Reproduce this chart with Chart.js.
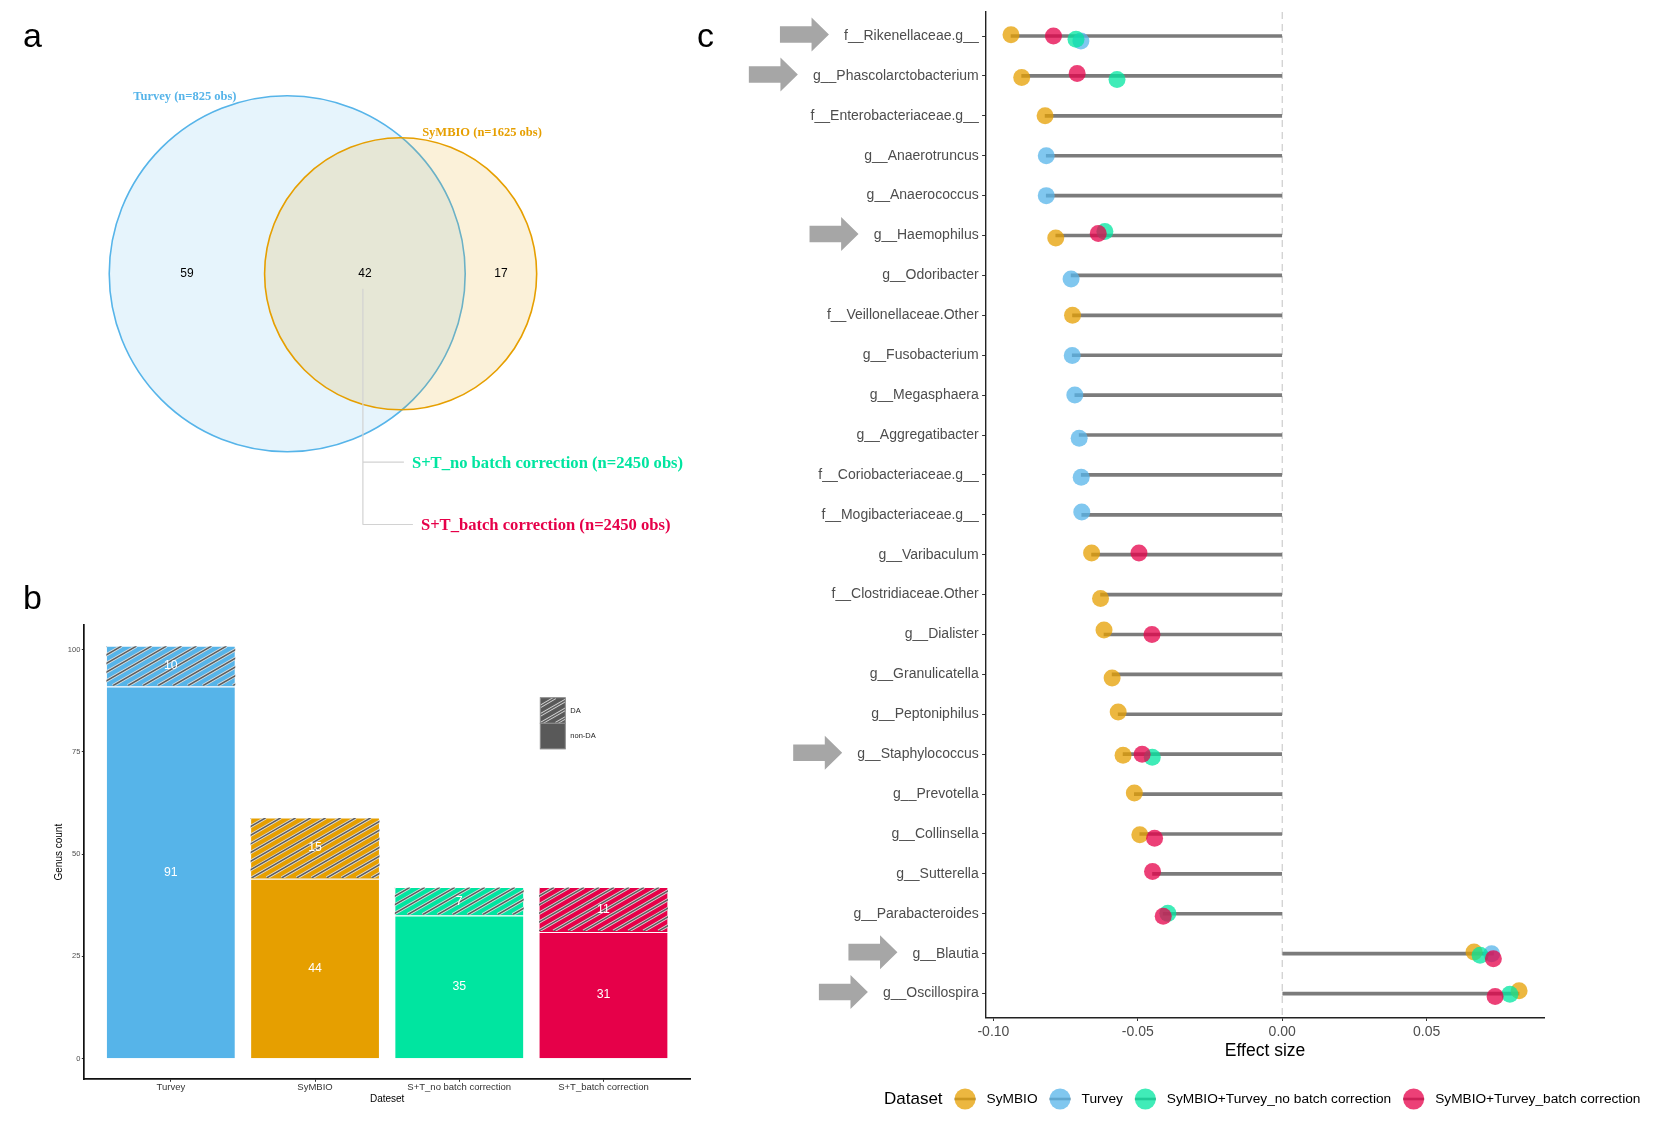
<!DOCTYPE html>
<html><head><meta charset="utf-8">
<script src="https://cdn.jsdelivr.net/npm/chart.js@4.4.1/dist/chart.umd.min.js"></script>
<style>
html,body{margin:0;padding:0;background:#fff;}
#wrap{position:relative;width:1672px;height:1129px;overflow:hidden;background:#fff;}
canvas{position:absolute;}
.letter{position:absolute;font-family:'Liberation Sans',Arial,sans-serif;font-size:34px;color:#000;line-height:1;}
</style></head><body>
<div id="wrap">
<canvas id="cA" width="700" height="570" style="left:0;top:0"></canvas>
<canvas id="cB" width="700" height="559" style="left:0;top:570px"></canvas>
<canvas id="cC" width="972" height="1129" style="left:700px;top:0"></canvas>
<div class="letter" style="left:23px;top:18px">a</div>
<div class="letter" style="left:23px;top:580px">b</div>
<div class="letter" style="left:697px;top:18px">c</div>
</div>
<script>
// ---------------- DATA ----------------
// Panel a (Venn)
const vennSets = ['Turvey', 'SyMBIO'];
const vennSetLabels = ['Turvey (n=825 obs)', 'SyMBIO (n=1625 obs)'];
const vennOnly = [59, 17];
const vennShared = 42;
const combinedLabels = ['S+T_no batch correction (n=2450 obs)', 'S+T_batch correction (n=2450 obs)'];

// Panel b (stacked bars)
const barCategories = ['Turvey', 'SyMBIO', 'S+T_no batch correction', 'S+T_batch correction'];
const nonDA = [91, 44, 35, 31];
const DA = [10, 15, 7, 11];
const barTicks = [0, 25, 50, 75, 100];

// Panel c (lollipop)
const genera = [
  'f__Rikenellaceae.g__', 'g__Phascolarctobacterium', 'f__Enterobacteriaceae.g__', 'g__Anaerotruncus',
  'g__Anaerococcus', 'g__Haemophilus', 'g__Odoribacter', 'f__Veillonellaceae.Other', 'g__Fusobacterium',
  'g__Megasphaera', 'g__Aggregatibacter', 'f__Coriobacteriaceae.g__', 'f__Mogibacteriaceae.g__',
  'g__Varibaculum', 'f__Clostridiaceae.Other', 'g__Dialister', 'g__Granulicatella', 'g__Peptoniphilus',
  'g__Staphylococcus', 'g__Prevotella', 'g__Collinsella', 'g__Sutterella', 'g__Parabacteroides',
  'g__Blautia', 'g__Oscillospira'
];
const symbio = [-0.0939, -0.0902, -0.0821, null, null, -0.0784, null, -0.0726, null, null, null, null, null,
  -0.0660, -0.0629, -0.0617, -0.0589, -0.0568, -0.0551, -0.0512, -0.0493, null, null, 0.0664, 0.0820];
const turvey = [-0.0697, null, null, -0.0817, -0.0817, null, -0.0731, null, -0.0727, -0.0718, -0.0703, -0.0696, -0.0694,
  null, null, null, null, null, null, null, null, null, null, 0.0725, null];
const noBatch = [-0.0714, -0.0572, null, null, null, -0.0614, null, null, null, null, null, null, null,
  null, null, null, null, null, -0.0450, null, null, null, -0.0396, 0.0685, 0.0788];
const batch = [-0.0792, -0.0710, null, null, null, -0.0637, null, null, null, null, null, null, null,
  -0.0496, null, -0.0451, null, null, -0.0485, null, -0.0442, -0.0449, -0.0412, 0.0731, 0.0737];
// vertical jitter of the points (in row units)
const symbioJit = [-0.03, 0.04, 0, 0, 0, 0.06, 0, 0, 0, 0, 0, 0, 0, -0.045, 0.1, -0.115, 0.09, -0.06, 0.025, -0.025, 0.02, 0, 0, -0.04, -0.07];
const turveyJit = [0.125, 0, 0, 0, 0, 0, 0.09, 0, 0.01, 0, 0.08, 0.06, -0.07, 0, 0, 0, 0, 0, 0, 0, 0, 0, 0, 0, 0];
const noBatchJit = [0.08, 0.09, 0, 0, 0, -0.1, 0, 0, 0, 0, 0, 0, 0, 0, 0, 0, 0, 0, 0.075, 0, 0, 0, -0.01, 0.04, 0.015];
const batchJit = [0, -0.06, 0, 0, 0, -0.05, 0, 0, 0, 0, 0, 0, 0, -0.045, 0, 0, 0, 0, 0, 0, 0.11, -0.06, 0.06, 0.125, 0.075];
const seriesNames = ['SyMBIO', 'Turvey', 'SyMBIO+Turvey_no batch correction', 'SyMBIO+Turvey_batch correction'];
const effectTicks = [-0.10, -0.05, 0.00, 0.05];
const arrowGenera = ['f__Rikenellaceae.g__', 'g__Phascolarctobacterium', 'g__Haemophilus', 'g__Staphylococcus', 'g__Blautia', 'g__Oscillospira'];

// ---------------- STYLE ----------------
const FONT = "'Liberation Sans', Arial, Helvetica, sans-serif";
const SERIF = "'Liberation Serif', 'Times New Roman', serif";
const C_SYM = '#E69F00', C_TUR = '#56B4E9', C_NOB = '#00E5A0', C_BAT = '#E60049';
function rgba(hex, a) {
  const n = parseInt(hex.slice(1), 16);
  return `rgba(${(n >> 16) & 255},${(n >> 8) & 255},${n & 255},${a})`;
}

// ---------------- PANEL A ----------------
function lensArea(r1, r2, d) {
  if (d >= r1 + r2) return 0;
  if (d <= Math.abs(r1 - r2)) return Math.PI * Math.min(r1, r2) ** 2;
  const a1 = Math.acos((d * d + r1 * r1 - r2 * r2) / (2 * d * r1));
  const a2 = Math.acos((d * d + r2 * r2 - r1 * r1) / (2 * d * r2));
  const k = Math.sqrt((-d + r1 + r2) * (d + r1 - r2) * (d - r1 + r2) * (d + r1 + r2));
  return r1 * r1 * a1 + r2 * r2 * a2 - 0.5 * k;
}
const setTotals = vennOnly.map(v => v + vennShared);
const radii = setTotals.map(t => Math.sqrt(t / Math.PI));
let lo = Math.abs(radii[0] - radii[1]) + 1e-9, hi = radii[0] + radii[1];
for (let i = 0; i < 80; i++) { const m = (lo + hi) / 2; if (lensArea(radii[0], radii[1], m) > vennShared) lo = m; else hi = m; }
const centers = [0, (lo + hi) / 2];
const vennColors = [C_TUR, C_SYM];
const regionX = [
  ((centers[0] - radii[0]) + (centers[1] - radii[1])) / 2,
  ((centers[1] - radii[1]) + (centers[0] + radii[0])) / 2,
  ((centers[0] + radii[0]) + (centers[1] + radii[1])) / 2
];
const regionCounts = [vennOnly[0], vennShared, vennOnly[1]];

function radiusPx(chart, r) {
  const s = chart.scales.x;
  return Math.abs(s.getPixelForValue(r) - s.getPixelForValue(0));
}

const vennLabels = {
  id: 'vennLabels',
  afterDatasetsDraw(chart) {
    const ctx = chart.ctx, xs = chart.scales.x, ys = chart.scales.y;
    ctx.save();
    ctx.fillStyle = '#000';
    ctx.font = `12px ${FONT}`;
    ctx.textAlign = 'center'; ctx.textBaseline = 'middle';
    regionCounts.forEach((c, i) => ctx.fillText(String(c), xs.getPixelForValue(regionX[i]), ys.getPixelForValue(0)));
    // set names
    ctx.font = `bold 12.5px ${SERIF}`;
    vennSetLabels.forEach((lab, i) => {
      const a = (i === 0 ? -30 : 30) * Math.PI / 180;
      const d = radii[i] + 0.85;
      ctx.fillStyle = vennColors[i];
      ctx.fillText(lab, xs.getPixelForValue(centers[i] + d * Math.sin(a)), ys.getPixelForValue(d * Math.cos(a)));
    });
    // leader lines from the shared region
    const x0 = xs.getPixelForValue(regionX[1]) - 2, y0 = ys.getPixelForValue(0);
    ctx.strokeStyle = '#d2d2d2'; ctx.lineWidth = 1.2;
    ctx.beginPath();
    ctx.moveTo(x0, y0 + 15); ctx.lineTo(x0, y0 + 251);
    ctx.moveTo(x0, y0 + 188.4); ctx.lineTo(x0 + 41, y0 + 188.4);
    ctx.moveTo(x0, y0 + 250.7); ctx.lineTo(x0 + 50, y0 + 250.7);
    ctx.stroke();
    ctx.font = `bold 16.6px ${SERIF}`;
    ctx.textAlign = 'left';
    ctx.fillStyle = C_NOB; ctx.fillText(combinedLabels[0], x0 + 49, y0 + 189.7);
    ctx.fillStyle = C_BAT; ctx.fillText(combinedLabels[1], x0 + 58, y0 + 251.7);
    ctx.restore();
  }
};

new Chart(document.getElementById('cA'), {
  type: 'scatter',
  data: {
    datasets: vennSets.map((name, i) => ({
      label: name,
      data: [{ x: centers[i], y: 0 }],
      backgroundColor: rgba(vennColors[i], 0.15),
      borderColor: vennColors[i],
      borderWidth: 1.6,
      pointRadius: ctx => radiusPx(ctx.chart, radii[i]),
      pointHoverRadius: ctx => radiusPx(ctx.chart, radii[i]),
      clip: false,
      order: vennSets.length - i
    }))
  },
  options: {
    responsive: false, animation: false, events: [],
    layout: { padding: 0 },
    plugins: { legend: { display: false }, tooltip: { enabled: false } },
    scales: {
      x: { type: 'linear', display: false, min: -9.15, max: 13.15 },
      y: { type: 'linear', display: false, min: -9.437, max: 8.722 }
    }
  },
  plugins: [vennLabels]
});

// ---------------- PANEL B ----------------
const barColors = [C_TUR, C_SYM, C_NOB, C_BAT];
function drawHatch(ctx, left, top, right, bottom) {
  ctx.save();
  ctx.beginPath(); ctx.rect(left, top, right - left, bottom - top); ctx.clip();
  const ang = 30 * Math.PI / 180, sp = 15;
  const dx = (bottom - top) / Math.tan(ang);
  for (let x = left - dx - sp; x <= right + sp; x += sp) {
    ctx.beginPath(); ctx.moveTo(x, bottom); ctx.lineTo(x + dx, top);
    ctx.strokeStyle = 'rgba(225,225,225,0.95)'; ctx.lineWidth = 3.2; ctx.stroke();
    ctx.strokeStyle = '#5c5c5c'; ctx.lineWidth = 1.5; ctx.stroke();
  }
  ctx.restore();
}
const barDecor = {
  id: 'barDecor',
  afterDatasetsDraw(chart) {
    const ctx = chart.ctx, ca = chart.chartArea;
    // hatch on DA segments
    const daMeta = chart.getDatasetMeta(1);
    daMeta.data.forEach(el => {
      const w = el.width;
      drawHatch(ctx, el.x - w / 2 + 0.5, Math.min(el.y, el.base) + 0.5, el.x + w / 2 - 0.5, Math.max(el.y, el.base) - 0.8);
    });
    // value labels
    ctx.save();
    ctx.fillStyle = '#fff'; ctx.font = `12.3px ${FONT}`;
    ctx.textAlign = 'center'; ctx.textBaseline = 'middle';
    chart.data.datasets.forEach((ds, di) => {
      chart.getDatasetMeta(di).data.forEach((el, i) => {
        ctx.fillText(String(ds.data[i].y), el.x, (el.y + el.base) / 2);
      });
    });
    // axis titles
    ctx.fillStyle = '#000'; ctx.font = `10px ${FONT}`;
    ctx.fillText('Dateset', (ca.left + ca.right) / 2, 529.5);
    ctx.save(); ctx.translate(59, (ca.top + ca.bottom) / 2); ctx.rotate(-Math.PI / 2);
    ctx.fillText('Genus count', 0, 0); ctx.restore();
    // legend DA / non-DA
    const kx = ca.left + 456, ky = ca.top + 72.7, kw = 25, kh = 25.6;
    ctx.fillStyle = '#595959';
    ctx.fillRect(kx, ky, kw, kh * 2);
    drawHatch(ctx, kx, ky, kx + kw, ky + kh);
    ctx.strokeStyle = '#8a8a8a'; ctx.lineWidth = 1;
    ctx.strokeRect(kx, ky, kw, kh); ctx.strokeRect(kx, ky + kh, kw, kh);
    ctx.fillStyle = '#222'; ctx.font = `7.5px ${FONT}`; ctx.textAlign = 'left';
    ctx.fillText('DA', kx + 30, ky + kh / 2);
    ctx.fillText('non-DA', kx + 30, ky + kh * 1.5);
    ctx.restore();
  }
};
const axisCommonB = {
  offset: false,
  grid: { display: true, offset: false, drawOnChartArea: false, drawTicks: true, tickLength: 2.5, tickColor: '#333', tickWidth: 1 },
  border: { display: true, color: '#111', width: 1.7 }
};
new Chart(document.getElementById('cB'), {
  type: 'bar',
  data: {
    datasets: [
      { label: 'non-DA', data: nonDA.map((v, i) => ({ x: i + 1, y: v })), backgroundColor: barColors,
        borderColor: 'rgba(255,255,255,0.6)', borderWidth: 1, barPercentage: 0.9, categoryPercentage: 1 },
      { label: 'DA', data: DA.map((v, i) => ({ x: i + 1, y: v })), backgroundColor: barColors,
        borderColor: 'rgba(255,255,255,0.6)', borderWidth: 1, barPercentage: 0.9, categoryPercentage: 1 }
    ]
  },
  options: {
    responsive: false, animation: false, events: [],
    layout: { padding: { left: 0, top: 55, right: 10, bottom: 0 } },
    plugins: { legend: { display: false }, tooltip: { enabled: false } },
    scales: {
      x: {
        type: 'linear', stacked: true, min: 0.4, max: 4.6, ...axisCommonB,
        afterBuildTicks: s => { s.ticks = barCategories.map((_, i) => ({ value: i + 1 })); },
        ticks: { callback: v => barCategories[Math.round(v) - 1], font: { family: FONT, size: 9.5 }, color: '#333', padding: 0, maxRotation: 0, autoSkip: false },
        afterFit: s => { s.height = 49.7; }
      },
      y: {
        type: 'linear', stacked: true, min: -5.05, max: 106.05, ...axisCommonB,
        afterBuildTicks: s => { s.ticks = barTicks.map(v => ({ value: v })); },
        ticks: { font: { family: FONT, size: 7.5 }, color: '#4d4d4d', padding: 1.5 },
        afterFit: s => { s.width = 84.3; }
      }
    }
  },
  plugins: [barDecor]
});

// ---------------- PANEL C ----------------
const allVals = [...symbio, ...turvey, ...noBatch, ...batch].filter(v => v !== null);
const vMin = Math.min(...allVals), vMax = Math.max(...allVals);
const vPad = (vMax - vMin) * 0.05;
function seriesData(vals, jit) {
  return vals.map((v, i) => v === null ? null : { x: v, y: i + 1 + jit[i] }).filter(Boolean);
}
const stems = genera.map((g, i) => {
  const vs = [symbio[i], turvey[i], noBatch[i], batch[i]].filter(v => v !== null);
  return { y: i + 1, x: [Math.min(0, ...vs), Math.max(0, ...vs)] };
});
const seriesDefs = [
  { label: seriesNames[0], vals: symbio, jit: symbioJit, color: C_SYM, order: 4 },
  { label: seriesNames[1], vals: turvey, jit: turveyJit, color: C_TUR, order: 3 },
  { label: seriesNames[2], vals: noBatch, jit: noBatchJit, color: C_NOB, order: 2 },
  { label: seriesNames[3], vals: batch, jit: batchJit, color: C_BAT, order: 1 }
];
const cDecor = {
  id: 'cDecor',
  afterDraw(chart) {
    const ctx = chart.ctx, ca = chart.chartArea, yS = chart.scales.y;
    ctx.save();
    // arrows
    ctx.font = `14px ${FONT}`;
    ctx.fillStyle = '#a6a6a6';
    arrowGenera.forEach(g => {
      const i = genera.indexOf(g);
      const y = yS.getPixelForValue(i + 1) - 1.5;
      const w = ctx.measureText(g).width;
      const tip = yS.right - 7 - w - 15;
      const hl = 17.4, sl = 31.6, sh = 8.3, hh = 17;
      ctx.beginPath();
      ctx.moveTo(tip, y);
      ctx.lineTo(tip - hl, y - hh); ctx.lineTo(tip - hl, y - sh);
      ctx.lineTo(tip - hl - sl, y - sh); ctx.lineTo(tip - hl - sl, y + sh);
      ctx.lineTo(tip - hl, y + sh); ctx.lineTo(tip - hl, y + hh);
      ctx.closePath(); ctx.fill();
    });
    // x title
    ctx.fillStyle = '#000'; ctx.font = `17.5px ${FONT}`;
    ctx.textAlign = 'center'; ctx.textBaseline = 'middle';
    ctx.fillText('Effect size', (ca.left + ca.right) / 2, 1050.7);
    // legend
    let x = 184, y = 1099;
    ctx.textAlign = 'left'; ctx.font = `17px ${FONT}`;
    ctx.fillText('Dataset', x, y);
    x += ctx.measureText('Dataset').width;
    ctx.font = `13.7px ${FONT}`;
    chart.data.datasets.filter(d => d.isSeries).forEach(ds => {
      const kc = x + 22.5;
      ctx.strokeStyle = '#7f7f7f'; ctx.lineWidth = 2.6;
      ctx.beginPath(); ctx.moveTo(kc - 10.5, y); ctx.lineTo(kc + 10.5, y); ctx.stroke();
      ctx.fillStyle = ds.backgroundColor;
      ctx.beginPath(); ctx.arc(kc, y, 10.5, 0, Math.PI * 2); ctx.fill();
      ctx.fillStyle = '#000';
      const tx = kc + 21.5;
      ctx.fillText(ds.label, tx, y);
      x = tx + ctx.measureText(ds.label).width;
    });
    ctx.restore();
  }
};
new Chart(document.getElementById('cC'), {
  type: 'scatter',
  data: {
    datasets: [
      { type: 'line', label: 'zero', data: [{ x: 0, y: 0.4 }, { x: 0, y: 25.6 }], borderColor: '#cccccc', borderWidth: 1.2,
        borderDash: [7, 5], pointRadius: 0, fill: false, order: 6 },
      { type: 'bar', indexAxis: 'y', label: 'stem', data: stems, backgroundColor: '#7b7b7b', borderWidth: 0,
        barThickness: 3, order: 5 },
      ...seriesDefs.map(s => ({
        label: s.label, isSeries: true, data: seriesData(s.vals, s.jit),
        backgroundColor: rgba(s.color, 0.75), borderWidth: 0, pointRadius: 8.5, pointHoverRadius: 8.5,
        order: s.order
      }))
    ]
  },
  options: {
    responsive: false, animation: false, events: [],
    layout: { padding: { left: 0, top: 12.1, right: 127.5, bottom: 0 } },
    plugins: { legend: { display: false }, tooltip: { enabled: false } },
    scales: {
      x: {
        type: 'linear', min: vMin - vPad, max: vMax + vPad, offset: false,
        grid: { display: true, offset: false, drawOnChartArea: false, drawTicks: true, tickLength: 3.5, tickColor: '#333' },
        border: { display: true, color: '#222', width: 1.4 },
        afterBuildTicks: s => { s.ticks = effectTicks.map(v => ({ value: v })); },
        ticks: { callback: v => v.toFixed(2), font: { family: FONT, size: 14 }, color: '#4d4d4d', padding: 2.5, maxRotation: 0, autoSkip: false },
        afterFit: s => { s.height = 111.5; }
      },
      y: {
        type: 'linear', reverse: true, min: 0.4, max: 25.6, offset: false,
        grid: { display: true, offset: false, drawOnChartArea: false, drawTicks: true, tickLength: 3.5, tickColor: '#333' },
        border: { display: true, color: '#222', width: 1.4 },
        afterBuildTicks: s => { s.ticks = genera.map((_, i) => ({ value: i + 1 })); },
        ticks: { callback: v => genera[Math.round(v) - 1], font: { family: FONT, size: 14 }, color: '#4d4d4d', padding: 3.4, autoSkip: false },
        afterFit: s => { s.width = 285.6; }
      }
    }
  },
  plugins: [cDecor]
});
</script>
</body></html>
